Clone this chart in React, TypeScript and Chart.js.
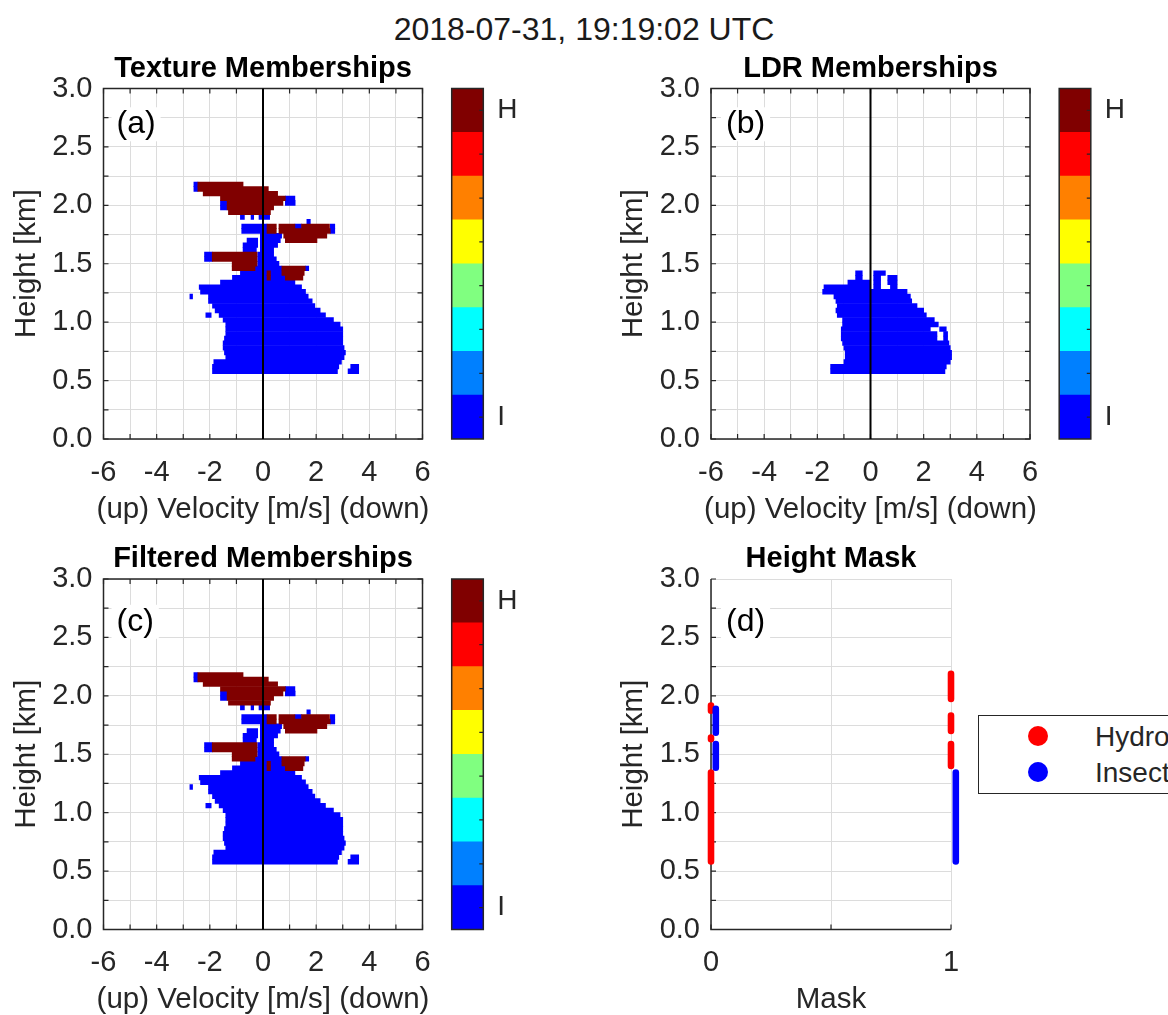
import React, { useEffect, useRef } from 'react';
import { Chart, registerables } from 'chart.js';

Chart.register(...registerables);

const FONT = "'Liberation Sans', Arial, Helvetica, sans-serif";
const INK = '#262626';
const GRID = '#dcdcdc';
const INSECT_COLOR = 'rgb(0,0,255)';
const HYDRO_COLOR = 'rgb(128,0,0)';
const MASK_HYDRO_COLOR = 'rgb(255,0,0)';

Chart.defaults.font.family = FONT;
Chart.defaults.color = INK;

// ---------------- data ----------------
const SUPER_TITLE = '2018-07-31, 19:19:02 UTC';
const panelTitles = ['Texture Memberships', 'LDR Memberships', 'Filtered Memberships', 'Height Mask'];
const panelLabels = ['(a)', '(b)', '(c)', '(d)'];
const velocityLabel = '(up) Velocity [m/s] (down)';
const heightLabel = 'Height [km]';
const maskLabel = 'Mask';
const legendLabels = ['Hydro', 'Insect'];

// colour bar (jet, 8 levels) and its end labels
const colorbarColors = [
  'rgb(0,0,255)', 'rgb(0,128,255)', 'rgb(0,255,255)', 'rgb(128,255,128)',
  'rgb(255,255,0)', 'rgb(255,128,0)', 'rgb(255,0,0)', 'rgb(128,0,0)',
];
const colorbarTickLabels = ['I', 'H'];

// rows: [height km, velocity start, velocity end]
const textureInsect: number[][] = [
  [0.58, -1.9, 2.8], [0.58, 3.2, 3.6],
  [0.62, -1.9, 2.85], [0.62, 3.3, 3.6],
  [0.66, -1.85, 2.95],
  [0.70, -1.4, 3.05],
  [0.74, -1.45, 3.1],
  [0.78, -1.5, 3.05],
  [0.82, -1.5, 3.0],
  [0.86, -1.45, 3.0],
  [0.90, -1.4, 3.0],
  [0.94, -1.4, 3.0],
  [0.98, -1.4, 2.9],
  [1.02, -1.5, 2.65],
  [1.06, -2.15, -1.95], [1.06, -1.65, 2.35],
  [1.10, -1.8, 2.15],
  [1.14, -1.9, 1.95],
  [1.18, -2.05, 1.85],
  [1.22, -2.75, -2.65], [1.22, -2.05, 1.7],
  [1.26, -2.35, 1.6],
  [1.30, -2.4, 1.45],
  [1.34, -1.6, 1.2],
  [1.38, -1.15, 0.84],
  [1.42, -0.85, 0.71],
  [1.46, -0.3, 0.71], [1.46, 1.59, 1.72],
  [1.50, -0.2, 0.6],
  [1.54, -2.2, -1.91], [1.54, -0.2, 0.5],
  [1.58, -2.2, -1.91], [1.58, -0.2, 0.4],
  [1.62, -0.75, -0.25], [1.62, -0.1, 0.4],
  [1.66, -0.75, -0.2], [1.66, -0.1, 0.55],
  [1.70, -0.6, -0.2], [1.70, -0.1, 0.65],
  [1.74, -0.1, 0.7],
  [1.78, -0.8, 0.15], [1.78, 2.53, 2.7],
  [1.82, -0.8, 0.15], [1.82, 1.2, 1.45], [1.82, 2.53, 2.7],
  [1.86, 1.65, 1.78],
  [1.90, -0.85, -0.7], [1.90, -0.45, -0.35], [1.90, -0.15, 0.25],
  [1.98, -1.6, -1.35],
  [2.02, -1.6, -1.35], [2.02, 0.84, 1.21],
  [2.06, 0.84, 1.2],
  [2.14, -2.6, -2.45],
  [2.18, -2.6, -2.45],
];

const textureHydro: number[][] = [
  [1.38, 0.15, 0.28], [1.38, 0.84, 1.5],
  [1.42, 0.15, 0.28], [1.42, 0.71, 1.55],
  [1.46, -1.16, -0.3], [1.46, 0.71, 1.59],
  [1.50, -1.16, -0.225],
  [1.54, -1.91, -0.225],
  [1.58, -1.91, -0.225],
  [1.70, 0.84, 2.03],
  [1.74, 0.78, 2.4],
  [1.78, 0.15, 0.5], [1.78, 0.6, 2.53],
  [1.82, 0.15, 0.5], [1.82, 0.6, 1.2], [1.82, 1.45, 2.5],
  [1.94, -1.3, 0.28],
  [1.98, -1.35, 0.4],
  [2.02, -1.35, 0.75],
  [2.06, -1.6, 0.84],
  [2.10, -2.25, 0.55],
  [2.14, -2.45, 0.2],
  [2.18, -2.45, -0.75],
];

const ldrInsect: number[][] = [
  [0.58, -1.5, 2.8],
  [0.62, -1.5, 2.85],
  [0.66, -1.0, 3.0],
  [0.70, -0.95, 3.05],
  [0.74, -0.95, 3.05],
  [0.78, -1.0, 3.0],
  [0.82, -1.05, 2.95],
  [0.86, -1.1, 2.5], [0.86, 2.75, 2.9],
  [0.90, -1.1, 2.5], [0.90, 2.75, 2.9],
  [0.94, -1.1, 2.25], [0.94, 2.6, 2.85],
  [0.98, -1.05, 2.55],
  [1.02, -1.05, 2.4],
  [1.06, -1.25, 2.1],
  [1.10, -1.3, 2.0],
  [1.14, -1.25, 1.75],
  [1.18, -1.3, 1.55],
  [1.22, -1.375, 1.5],
  [1.26, -1.8, 1.375],
  [1.30, -1.75, 0.0], [1.30, 0.12, 0.38], [1.30, 0.75, 1.0],
  [1.34, -0.85, 0.0], [1.34, 0.12, 0.38], [1.34, 0.65, 1.0],
  [1.38, -0.56, -0.31], [1.38, 0.12, 0.38], [1.38, 0.65, 1.0],
  [1.42, -0.56, -0.31], [1.42, 0.12, 0.56],
];

const filteredInsect: number[][] = textureInsect;
const filteredHydro: number[][] = textureHydro;

// height mask: x position of each column and height segments [first dot, last dot]
const maskHydroX = [0, 1];
const maskInsectX = [0.02, 1.02];
const maskHydroAt0: number[][] = [[0.582, 1.344], [1.628, 1.642], [1.872, 1.917]];
const maskInsectAt0: number[][] = [[1.385, 1.587], [1.685, 1.888]];
const maskHydroAt1: number[][] = [[1.40, 1.587], [1.70, 1.832], [1.973, 2.189]];
const maskInsectAt1: number[][] = [[0.582, 1.344], [1.632, 1.638], [1.870, 1.876], [1.927, 1.933]];

// ---------------- helpers ----------------
type Rect = { left: number; top: number; right: number; bottom: number };

const TICK_SIZE = 29;
const LABEL_SIZE = 29.5;

function zeroPadding(s: any) {
  s.paddingLeft = 0;
  s.paddingRight = 0;
  s.paddingTop = 0;
  s.paddingBottom = 0;
}

const decorPlugin = {
  id: 'decor',
  beforeDatasetsDraw(chart: any, _args: any, o: any) {
    const { ctx, chartArea: a, scales } = chart;
    ctx.save();
    ctx.strokeStyle = INK;
    ctx.lineWidth = 1.2;
    ctx.beginPath();
    const tl = 5;
    scales.x.ticks.forEach((_t: any, i: number) => {
      const px = scales.x.getPixelForTick(i);
      ctx.moveTo(px, a.bottom); ctx.lineTo(px, a.bottom - tl);
      if (o.box) { ctx.moveTo(px, a.top); ctx.lineTo(px, a.top + tl); }
    });
    scales.y.ticks.forEach((_t: any, i: number) => {
      const py = scales.y.getPixelForTick(i);
      ctx.moveTo(a.left, py); ctx.lineTo(a.left + tl, py);
      if (o.box) { ctx.moveTo(a.right, py); ctx.lineTo(a.right - tl, py); }
    });
    ctx.stroke();
    ctx.lineWidth = 1.5;
    if (o.box) {
      ctx.strokeRect(a.left, a.top, a.right - a.left, a.bottom - a.top);
    } else {
      ctx.beginPath();
      ctx.moveTo(a.left, a.top);
      ctx.lineTo(a.left, a.bottom);
      ctx.lineTo(a.right, a.bottom);
      ctx.stroke();
    }
    ctx.restore();
  },
  afterDatasetsDraw(chart: any, _args: any, o: any) {
    const { ctx, chartArea: a, scales } = chart;
    ctx.save();
    if (o.zeroLine) {
      const x0 = scales.x.getPixelForValue(0);
      ctx.strokeStyle = '#000';
      ctx.lineWidth = 2;
      ctx.beginPath();
      ctx.moveTo(x0, a.top);
      ctx.lineTo(x0, a.bottom);
      ctx.stroke();
    }
    if (o.label) {
      ctx.font = `32px ${FONT}`;
      const w = ctx.measureText(o.label).width;
      const x = a.left + o.labelDx;
      const cy = a.top + o.labelDy;
      ctx.fillStyle = '#fff';
      ctx.fillRect(x - 5, cy - 17, w + 10, 34);
      ctx.fillStyle = '#000';
      ctx.textAlign = 'left';
      ctx.textBaseline = 'middle';
      ctx.fillText(o.label, x, cy);
    }
    if (o.title) {
      ctx.font = `bold 29px ${FONT}`;
      ctx.fillStyle = '#000';
      ctx.textAlign = 'center';
      ctx.textBaseline = 'alphabetic';
      ctx.fillText(o.title, (a.left + a.right) / 2, a.top - 12);
    }
    if (o.xTitle) {
      ctx.font = `${LABEL_SIZE}px ${FONT}`;
      ctx.fillStyle = INK;
      ctx.textAlign = 'center';
      ctx.textBaseline = 'middle';
      ctx.fillText(o.xTitle, (a.left + a.right) / 2, a.bottom + 70.4);
    }
    ctx.restore();
  },
};

const colorbarPlugin = {
  id: 'cbar',
  afterDatasetsDraw(chart: any) {
    const { ctx, chartArea: a, scales } = chart;
    ctx.save();
    ctx.strokeStyle = INK;
    ctx.lineWidth = 1.2;
    ctx.beginPath();
    colorbarColors.forEach((_c, i) => {
      const y = scales.y.getPixelForValue(i + 0.5);
      ctx.moveTo(a.right, y);
      ctx.lineTo(a.right - 4, y);
    });
    ctx.stroke();
    ctx.lineWidth = 1.5;
    ctx.strokeRect(a.left, a.top, a.right - a.left, a.bottom - a.top);
    ctx.restore();
  },
};

function heightAxis(canvas: Rect, area: Rect) {
  return {
    type: 'linear',
    min: 0,
    max: 3,
    offset: false,
    ticks: {
      stepSize: 0.25,
      autoSkip: false,
      padding: 11,
      color: INK,
      font: { size: TICK_SIZE, lineHeight: 1 },
      callback: (v: number) => (Math.round(v * 4) % 2 === 0 ? v.toFixed(1) : ''),
    },
    grid: { color: GRID, drawTicks: false, offset: false },
    border: { display: false },
    title: {
      display: true,
      text: heightLabel,
      color: INK,
      font: { size: LABEL_SIZE, lineHeight: 1 },
      padding: { top: area.left - 76.7 - canvas.left - 14.75, bottom: 0 },
    },
    afterFit: (s: any) => { s.width = area.left - canvas.left; zeroPadding(s); },
  };
}

function bottomAxis(canvas: Rect, area: Rect, min: number, max: number, step: number, cb: (v: number) => string) {
  return {
    type: 'linear',
    min,
    max,
    ticks: {
      stepSize: step,
      autoSkip: false,
      maxRotation: 0,
      padding: 19,
      color: INK,
      font: { size: TICK_SIZE, lineHeight: 1 },
      callback: cb,
    },
    grid: { color: GRID, drawTicks: false },
    border: { display: false },
    title: { display: false },
    afterFit: (s: any) => { s.height = canvas.bottom - area.bottom; zeroPadding(s); },
  };
}

function barRows(label: string, rows: number[][], color: string) {
  return {
    label,
    data: rows.map(([h, v0, v1]) => ({ y: h, x: [v0, v1] })),
    backgroundColor: color,
    borderWidth: 0,
    barPercentage: 1,
    categoryPercentage: 1,
    grouped: false,
  };
}

function baseOptions(canvas: Rect, area: Rect) {
  return {
    animation: false,
    responsive: false,
    devicePixelRatio: 1,
    events: [],
    layout: {
      autoPadding: false,
      padding: { left: 0, top: area.top - canvas.top, right: canvas.right - area.right, bottom: 0 },
    },
  };
}

function velocityConfig(canvas: Rect, area: Rect, insect: number[][], hydro: number[][] | null, title: string, label: string, labelDx: number, labelDy: number): any {
  const datasets: any[] = [];
  if (hydro) datasets.push(barRows('Hydro', hydro, HYDRO_COLOR));
  datasets.push(barRows('Insect', insect, INSECT_COLOR));
  return {
    type: 'bar',
    data: { datasets },
    options: {
      ...baseOptions(canvas, area),
      indexAxis: 'y',
      plugins: {
        legend: { display: false },
        tooltip: { enabled: false },
        decor: { box: true, zeroLine: true, title, label, labelDx, labelDy, xTitle: velocityLabel },
      },
      scales: {
        x: bottomAxis(canvas, area, -6, 6, 1, (v: number) => (Math.round(v) % 2 === 0 ? String(v) : '')),
        y: heightAxis(canvas, area),
      },
    },
    plugins: [decorPlugin],
  };
}

function columnPoints(x: number, segs: number[][]) {
  const pts: any[] = [];
  segs.forEach((s) => {
    s.forEach((h) => pts.push({ x, y: h }));
    pts.push({ x, y: null });
  });
  return pts;
}

function columnDataset(label: string, x: number, segs: number[][], color: string) {
  return {
    label,
    data: columnPoints(x, segs),
    showLine: true,
    spanGaps: false,
    borderColor: color,
    backgroundColor: color,
    borderWidth: 6.6,
    borderCapStyle: 'round',
    pointRadius: 0,
    clip: false,
  };
}

function maskConfig(canvas: Rect, area: Rect): any {
  return {
    type: 'scatter',
    data: {
      datasets: [
        columnDataset('Insect', maskInsectX[0], maskInsectAt0, INSECT_COLOR),
        columnDataset('Insect', maskInsectX[1], maskInsectAt1, INSECT_COLOR),
        columnDataset('Hydro', maskHydroX[0], maskHydroAt0, MASK_HYDRO_COLOR),
        columnDataset('Hydro', maskHydroX[1], maskHydroAt1, MASK_HYDRO_COLOR),
      ],
    },
    options: {
      ...baseOptions(canvas, area),
      plugins: {
        legend: { display: false },
        tooltip: { enabled: false },
        decor: { box: false, zeroLine: false, title: panelTitles[3], label: panelLabels[3], labelDx: 15, labelDy: 42.8, xTitle: maskLabel },
      },
      scales: {
        x: bottomAxis(canvas, area, 0, 1, 0.5, (v: number) => (Math.abs(v - 0.5) < 1e-6 ? '' : String(v))),
        y: heightAxis(canvas, area),
      },
    },
    plugins: [decorPlugin],
  };
}

function colorbarConfig(canvas: Rect, area: Rect): any {
  return {
    type: 'bar',
    data: {
      labels: [''],
      datasets: colorbarColors.map((c, i) => ({
        label: String(i),
        data: [1],
        backgroundColor: c,
        borderWidth: 0,
        barPercentage: 1,
        categoryPercentage: 1,
      })),
    },
    options: {
      animation: false,
      responsive: false,
      devicePixelRatio: 1,
      events: [],
      layout: {
        autoPadding: false,
        padding: { left: area.left - canvas.left, top: area.top - canvas.top, right: 0, bottom: canvas.bottom - area.bottom },
      },
      plugins: { legend: { display: false }, tooltip: { enabled: false } },
      scales: {
        x: { display: false, stacked: true },
        y: {
          stacked: true,
          position: 'right',
          min: 0,
          max: colorbarColors.length,
          grid: { display: false, drawTicks: false },
          border: { display: false },
          afterBuildTicks: (s: any) => { s.ticks = [{ value: 0.5 }, { value: colorbarColors.length - 0.5 }]; },
          ticks: {
            padding: 14,
            color: INK,
            font: { size: 28, lineHeight: 1 },
            callback: (v: number) => (v < 1 ? colorbarTickLabels[0] : colorbarTickLabels[1]),
          },
          afterFit: (s: any) => { s.width = canvas.right - area.right; zeroPadding(s); },
        },
      },
    },
    plugins: [colorbarPlugin],
  };
}

function ChartCanvas({ rect, make }: { rect: Rect; make: () => any }) {
  const ref = useRef<HTMLCanvasElement>(null);
  const w = rect.right - rect.left;
  const h = rect.bottom - rect.top;
  useEffect(() => {
    const chart = new Chart(ref.current as HTMLCanvasElement, make());
    return () => chart.destroy();
  }, []);
  return (
    <div style={{ position: 'absolute', left: rect.left, top: rect.top, width: w, height: h }}>
      <canvas ref={ref} width={w} height={h} style={{ width: w, height: h, display: 'block' }} />
    </div>
  );
}

// layout (page pixels)
const cA = { left: 0, top: 40, right: 440, bottom: 530 };
const aA = { left: 103.5, top: 88.5, right: 422.5, bottom: 439 };
const cB = { left: 600, top: 40, right: 1046, bottom: 530 };
const aB = { left: 711, top: 88.5, right: 1030, bottom: 439 };
const cC = { left: 0, top: 530, right: 440, bottom: 1015 };
const aC = { left: 103.5, top: 579, right: 422.5, bottom: 929.5 };
const cD = { left: 600, top: 530, right: 970, bottom: 1015 };
const aD = { left: 711, top: 579, right: 951, bottom: 929.5 };
const cbA = { left: 445, top: 80, right: 545, bottom: 450 };
const cbAa = { left: 451.7, top: 88.5, right: 483.3, bottom: 439 };
const cbB = { left: 1052, top: 80, right: 1152, bottom: 450 };
const cbBa = { left: 1059.2, top: 88.5, right: 1090.8, bottom: 439 };
const cbC = { left: 445, top: 570, right: 545, bottom: 940 };
const cbCa = { left: 451.7, top: 579, right: 483.3, bottom: 929.5 };

export default function App() {
  return (
    <div style={{ position: 'absolute', left: 0, top: 0, width: 1168, height: 1015, background: '#fff', overflow: 'hidden', fontFamily: FONT, color: INK }}>
      <div style={{ position: 'absolute', left: 0, top: 13.2, width: 1168, textAlign: 'center', fontSize: 32, lineHeight: '32px', color: '#1a1a1a', whiteSpace: 'nowrap' }}>
        {SUPER_TITLE}
      </div>
      <ChartCanvas rect={cA} make={() => velocityConfig(cA, aA, textureInsect, textureHydro, panelTitles[0], panelLabels[0], 13, 35.8)} />
      <ChartCanvas rect={cB} make={() => velocityConfig(cB, aB, ldrInsect, null, panelTitles[1], panelLabels[1], 15, 35.8)} />
      <ChartCanvas rect={cC} make={() => velocityConfig(cC, aC, filteredInsect, filteredHydro, panelTitles[2], panelLabels[2], 13, 42.8)} />
      <ChartCanvas rect={cD} make={() => maskConfig(cD, aD)} />
      <ChartCanvas rect={cbA} make={() => colorbarConfig(cbA, cbAa)} />
      <ChartCanvas rect={cbB} make={() => colorbarConfig(cbB, cbBa)} />
      <ChartCanvas rect={cbC} make={() => colorbarConfig(cbC, cbCa)} />
      <div style={{ position: 'absolute', left: 977.7, top: 715, width: 300, height: 79, border: `1.5px solid ${INK}`, boxSizing: 'border-box', background: '#fff' }} />
      {legendLabels.map((t, i) => (
        <React.Fragment key={t}>
          <div style={{ position: 'absolute', left: 1027.5, top: 726 + i * 36.3, width: 20, height: 20, borderRadius: '50%', background: i === 0 ? MASK_HYDRO_COLOR : INSECT_COLOR }} />
          <div style={{ position: 'absolute', left: 1095, top: 723 + i * 35.8, fontSize: 28, lineHeight: '28px', whiteSpace: 'nowrap', color: INK }}>{t}</div>
        </React.Fragment>
      ))}
    </div>
  );
}
